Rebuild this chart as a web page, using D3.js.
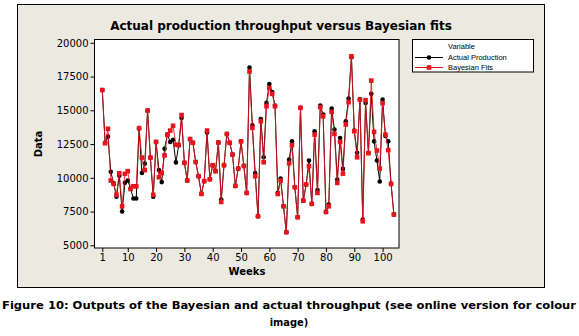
<!DOCTYPE html>
<html>
<head>
<meta charset="utf-8">
<script src="https://cdn.jsdelivr.net/npm/d3@7"></script>
<style>
  body { margin: 0; background: #fff; }
  svg { display: block; }
</style>
</head>
<body>
<div id="svganchor"></div>
<script>
let width = 579;
let height = 336;

// weekly values
let weeks = d3.range(1, 105);
let actualProduction = [
  16500, 12600, 13050, 10450, 9600, 8600, 10150, 7500, 9630, 9800,
  9180, 8470, 8470, 13650, 10360, 11050, 14980, 11480, 8600, 12650,
  10570, 9680, 12150, 13200, 12650, 12820, 11140, 12420, 14430, 11120,
  9800, 12870, 12600, 11170, 10120, 8810, 9750, 13350, 9890, 10930,
  10490, 12610, 8390, 10930, 13250, 12590, 11720, 9400, 10680, 12700,
  10880, 8880, 18170, 13880, 10360, 7150, 14360, 11520, 15550, 16950,
  16360, 15350, 8880, 9940, 7900, 5970, 11350, 12710, 9320, 7080,
  15180, 8310, 9500, 11280, 8070, 13450, 9100, 15350, 14680, 7470,
  8020, 15130, 13570, 9870, 12950, 10660, 14190, 15870, 18930, 13500,
  11850, 15820, 6900, 15550, 11850, 16220, 12700, 11280, 9730, 15800,
  13100, 12700, 9550, 7280
];
let bayesianFits = [
  16500, 12560, 13630, 9800, 9550, 8750, 10340, 7890, 10290, 10490,
  9170, 9370, 9370, 13680, 11500, 10570, 14980, 11500, 8740, 12660,
  10040, 10350, 11660, 13190, 13500, 13850, 12450, 12420, 14650, 11110,
  9800, 12870, 12600, 11170, 10120, 8810, 9750, 13500, 9890, 10930,
  10490, 12610, 8210, 10930, 13250, 12590, 11720, 9400, 10680, 12700,
  10880, 8880, 17870, 13700, 10120, 7150, 14190, 11150, 15300, 16660,
  16220, 15300, 8800, 9800, 7890, 5970, 11080, 12420, 9300, 7080,
  15180, 8310, 9500, 10860, 8070, 13200, 8880, 15230, 14560, 7470,
  7890, 14880, 13250, 9620, 12660, 10310, 13950, 15600, 19000, 13450,
  11520, 15780, 6780, 15750, 11820, 17200, 13400, 12020, 10690, 15530,
  13200, 12050, 9550, 7280
];
let xTicks = [1, 10, 20, 30, 40, 50, 60, 70, 80, 90, 100];
let yTicks = [5000, 7500, 10000, 12500, 15000, 17500, 20000];

let plot = { left: 94.5, right: 399, top: 39.5, bottom: 248 };

let svg = d3.select("#svganchor").append("svg").attr("width", width).attr("height", height);

// outer minitab frame
svg.append("rect")
  .attr("x", 17.5).attr("y", 4.5)
  .attr("width", 527).attr("height", 283)
  .attr("fill", "#ECE9E0")
  .attr("stroke", "#000").attr("stroke-width", 1);

svg.append("rect")
  .attr("x", plot.left).attr("y", plot.top)
  .attr("width", plot.right - plot.left).attr("height", plot.bottom - plot.top)
  .attr("fill", "#fff")
  .attr("stroke", "#000").attr("stroke-width", 1);

let xScale = d3.scaleLinear().domain([-1.75, 105.8]).range([plot.left, plot.right]);
let yScale = d3.scaleLinear().domain([4800, 20245]).range([plot.bottom, plot.top]);

let xAxis = svg.append("g")
  .attr("transform", "translate(0," + plot.bottom + ")")
  .call(d3.axisBottom(xScale).tickValues(xTicks).tickSize(4).tickSizeOuter(0).tickPadding(2));

let yAxis = svg.append("g")
  .attr("transform", "translate(" + plot.left + ",0)")
  .call(d3.axisLeft(yScale).tickValues(yTicks).tickFormat(d3.format("d")).tickSize(4).tickSizeOuter(0).tickPadding(2));

[xAxis, yAxis].forEach(function (g) {
  g.select(".domain").remove();
  g.selectAll("line").attr("stroke", "#000");
  g.selectAll("text")
    .attr("fill", "#000")
    .style("font-family", "'DejaVu Sans', sans-serif")
    .style("font-size", "10px");
});

svg.append("text")
  .attr("x", 281).attr("y", 30)
  .attr("text-anchor", "middle")
  .attr("fill", "#000")
  .style("font-family", "'DejaVu Sans', sans-serif")
  .style("font-weight", "bold")
  .style("font-size", "12px")
  .text("Actual production throughput versus Bayesian fits");

svg.append("text")
  .attr("x", 247).attr("y", 275)
  .attr("text-anchor", "middle")
  .attr("fill", "#000")
  .style("font-family", "'DejaVu Sans', sans-serif")
  .style("font-weight", "bold")
  .style("font-size", "10px")
  .text("Weeks");

svg.append("text")
  .attr("transform", "translate(42,144) rotate(-90)")
  .attr("text-anchor", "middle")
  .attr("fill", "#000")
  .style("font-family", "'DejaVu Sans', sans-serif")
  .style("font-weight", "bold")
  .style("font-size", "10px")
  .text("Data");

let lineGen = d3.line()
  .x(function (d, i) { return xScale(weeks[i]); })
  .y(function (d) { return yScale(d); });

// actual production: black line with dots
svg.append("path")
  .datum(actualProduction)
  .attr("d", lineGen)
  .attr("fill", "none")
  .attr("stroke", "#000")
  .attr("stroke-width", 1);

svg.selectAll(".actual")
  .data(actualProduction)
  .enter()
  .append("circle")
  .attr("class", "actual")
  .attr("cx", function (d, i) { return xScale(weeks[i]); })
  .attr("cy", function (d) { return yScale(d); })
  .attr("r", 2.3)
  .attr("fill", "#000");

// bayesian fits: red line with squares
svg.append("path")
  .datum(bayesianFits)
  .attr("d", lineGen)
  .attr("fill", "none")
  .attr("stroke", "#E8141B")
  .attr("stroke-width", 1)
  .attr("stroke-opacity", 0.85);

svg.selectAll(".fits")
  .data(bayesianFits)
  .enter()
  .append("rect")
  .attr("class", "fits")
  .attr("x", function (d, i) { return xScale(weeks[i]) - 2.3; })
  .attr("y", function (d) { return yScale(d) - 2.3; })
  .attr("width", 4.6)
  .attr("height", 4.6)
  .attr("fill", "#E8141B");

// legend
let legend = svg.append("g");
legend.append("rect")
  .attr("x", 412.5).attr("y", 39.5)
  .attr("width", 121).attr("height", 32.5)
  .attr("fill", "#fff")
  .attr("stroke", "#000").attr("stroke-width", 1);

let legendFont = "'Liberation Sans', Arial, sans-serif";
legend.append("text")
  .attr("x", 448).attr("y", 49)
  .attr("fill", "#000")
  .style("font-family", legendFont).style("font-size", "7.5px")
  .text("Variable");

let legendItems = [
  { label: "Actual Production", color: "#000", shape: "circle", y: 57.5 },
  { label: "Bayesian Fits", color: "#E8141B", shape: "square", y: 67.5 }
];

legendItems.forEach(function (item) {
  legend.append("line")
    .attr("x1", 415).attr("x2", 443)
    .attr("y1", item.y).attr("y2", item.y)
    .attr("stroke", item.color).attr("stroke-width", 1);
  if (item.shape === "circle") {
    legend.append("circle").attr("cx", 429).attr("cy", item.y).attr("r", 2.3).attr("fill", item.color);
  } else {
    legend.append("rect").attr("x", 426.7).attr("y", item.y - 2.3).attr("width", 4.6).attr("height", 4.6).attr("fill", item.color);
  }
  legend.append("text")
    .attr("x", 448).attr("y", item.y + 2.7)
    .attr("fill", "#000")
    .style("font-family", legendFont).style("font-size", "7.5px")
    .text(item.label);
});

// caption under the figure
let captionFont = "'DejaVu Sans Condensed', 'DejaVu Sans', sans-serif";
svg.append("text")
  .attr("x", 289).attr("y", 309)
  .attr("text-anchor", "middle")
  .attr("textLength", 574).attr("lengthAdjust", "spacingAndGlyphs")
  .attr("fill", "#000")
  .style("font-family", captionFont).style("font-weight", "bold").style("font-size", "11px")
  .text("Figure 10: Outputs of the Bayesian and actual throughput (see online version for colour");

svg.append("text")
  .attr("x", 289).attr("y", 326)
  .attr("text-anchor", "middle")
  .attr("fill", "#000")
  .style("font-family", captionFont).style("font-weight", "bold").style("font-size", "11px")
  .text("image)");
</script>
</body>
</html>
